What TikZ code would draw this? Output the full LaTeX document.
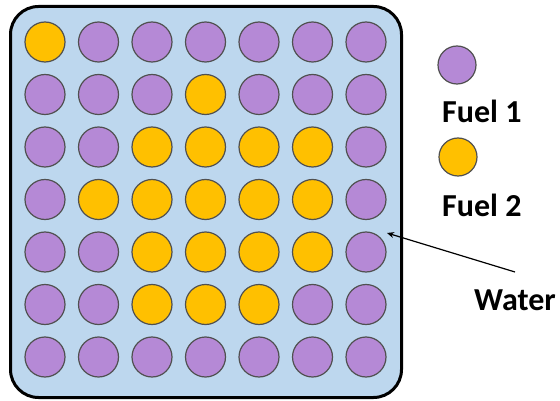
\documentclass[tikz,border=0pt]{standalone}
\usepackage{fontspec}
\setmainfont{Carlito}
\usetikzlibrary{arrows.meta}
\definecolor{fuelA}{HTML}{B589D6}
\definecolor{fuelB}{HTML}{FFC000}
\definecolor{water}{HTML}{BDD7EE}
\definecolor{rim}{HTML}{505050}
\tikzset{
  pin/.style={circle, draw=rim, line width=1.2pt, minimum size=40pt, inner sep=0pt},
  lpin/.style={circle, draw=rim, line width=1.2pt, minimum size=38pt, inner sep=0pt},
  lab/.style={font=\fontsize{32}{34}\selectfont\bfseries, inner sep=0pt, anchor=west},
}
\begin{document}
\begin{tikzpicture}[x=1pt,y=-1pt]
\useasboundingbox (0,0) rectangle (560,401);
\node[draw=black, line width=3pt, fill=water, rounded corners=28pt, minimum width=391pt, minimum height=391pt, inner sep=0pt] (box) at (206,202) {};
\foreach \r/\row in {0/{1,0,0,0,0,0,0},1/{0,0,0,1,0,0,0},2/{0,0,1,1,1,1,0},3/{0,1,1,1,1,1,0},4/{0,0,1,1,1,1,0},5/{0,0,1,1,1,0,0},6/{0,0,0,0,0,0,0}}{
  \foreach \v [count=\c from 0] in \row {
    \ifnum\v=1
      \node[pin, fill=fuelB] (c-\r-\c) at ({45+53.5*\c},{42+52.5*\r}) {};
    \else
      \node[pin, fill=fuelA] (c-\r-\c) at ({45+53.5*\c},{42+52.5*\r}) {};
    \fi
  }
}
\node[lpin, fill=fuelA] (leg1) at (457,65) {};
\node[lab] (t1) at (442,111) {Fuel 1};
\node[lpin, fill=fuelB] (leg2) at (458,157) {};
\node[lab] (t2) at (442,205) {Fuel 2};
\node[lab] (tw) at (474,300) {Water};
\coordinate (wtail) at (515,272);
\coordinate (whead) at (387,233);
\draw[line width=1.2pt, -{Stealth[length=7pt,width=6pt]}] (wtail) -- (whead);
\end{tikzpicture}
\end{document}
